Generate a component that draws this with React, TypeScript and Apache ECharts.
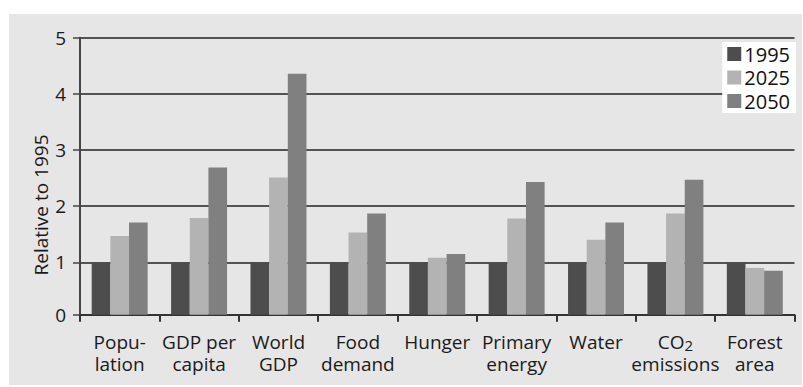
import React, { useEffect, useRef } from "react";
import * as echarts from "echarts";

const categories = [
  "Popu-\nlation",
  "GDP per\ncapita",
  "World\nGDP",
  "Food\ndemand",
  "Hunger",
  "Primary\nenergy",
  "Water",
  "CO2\nemissions",
  "Forest\narea",
];
const seriesNames = ["1995", "2025", "2050"];
const values1995 = [1, 1, 1, 1, 1, 1, 1, 1, 1];
const values2025 = [1.47, 1.79, 2.51, 1.53, 1.08, 1.78, 1.4, 1.87, 0.9];
const values2050 = [1.71, 2.69, 4.36, 1.87, 1.15, 2.43, 1.71, 2.47, 0.85];
const colors = ["#4d4d4d", "#b3b3b3", "#808080"];

const FONT = "Open Sans";

export default function App() {
  const ref = useRef<HTMLDivElement>(null);
  useEffect(() => {
    if (!ref.current) return;
    const chart = echarts.init(ref.current, undefined, { renderer: "svg" });
    const data = [values1995, values2025, values2050];
    chart.setOption({
      animation: false,
      backgroundColor: "#ffffff",
      textStyle: { fontFamily: FONT },
      graphic: [
        {
          type: "rect",
          z: -10,
          silent: true,
          shape: { x: 9, y: 14, width: 793, height: 371 },
          style: { fill: "#e6e6e6" },
        },
        {
          type: "text",
          x: 41,
          y: 205,
          rotation: Math.PI / 2,
          style: {
            text: "Relative to 1995",
            fontFamily: FONT,
            fontSize: 19,
            fill: "#1a1a1a",
            textAlign: "center",
            textVerticalAlign: "middle",
          },
        },
      ],
      legend: {
        data: seriesNames,
        orient: "vertical",
        right: 7,
        top: 42,
        backgroundColor: "#ffffff",
        padding: [2, 6, 2, 5],
        itemGap: 3.5,
        itemWidth: 14,
        itemHeight: 14,
        icon: "rect",
        textStyle: {
          fontSize: 20,
          lineHeight: 20,
          color: "#111",
          fontFamily: FONT,
          padding: [0, 0, 0, -2],
        },
      },
      grid: { left: 80, top: 37.7, right: 8.5, bottom: 72.3, containLabel: false },
      xAxis: {
        type: "category",
        data: categories,
        axisLine: { onZero: false, lineStyle: { color: "#333", width: 2 } },
        axisTick: { show: true, length: 7, lineStyle: { color: "#333", width: 2 } },
        axisLabel: {
          interval: 0,
          margin: 16,
          fontSize: 19,
          lineHeight: 22,
          color: "#1a1a1a",
          fontFamily: FONT,
          formatter: (v: string) => v.replace("CO2", "CO{sub|2}"),
          rich: {
            sub: {
              fontSize: 15,
              lineHeight: 12,
              verticalAlign: "bottom",
              color: "#1a1a1a",
              fontFamily: FONT,
            },
          },
        },
      },
      yAxis: {
        type: "value",
        min: 0.0668,
        max: 5,
        splitNumber: 5,
        axisLine: { show: true, lineStyle: { color: "#444", width: 2 } },
        axisTick: { show: true, length: 7, lineStyle: { color: "#444", width: 1.5 } },
        axisLabel: {
          margin: 14,
          fontSize: 19,
          color: "#1a1a1a",
          fontFamily: FONT,
          formatter: (v: number) => (v < 0.5 ? "0" : String(Math.round(v))),
        },
        splitLine: { show: true, lineStyle: { color: "#222", width: 1.5 } },
      },
      series: seriesNames.map((name, i) => ({
        name,
        type: "bar",
        data: data[i],
        barGap: "0%",
        barCategoryGap: "29.5%",
        clip: true,
        itemStyle: { color: colors[i] },
      })),
      color: colors,
    });
    return () => chart.dispose();
  }, []);
  return (
    <div
      ref={ref}
      style={{ position: "fixed", left: 0, top: 0, width: 803, height: 387 }}
    />
  );
}
